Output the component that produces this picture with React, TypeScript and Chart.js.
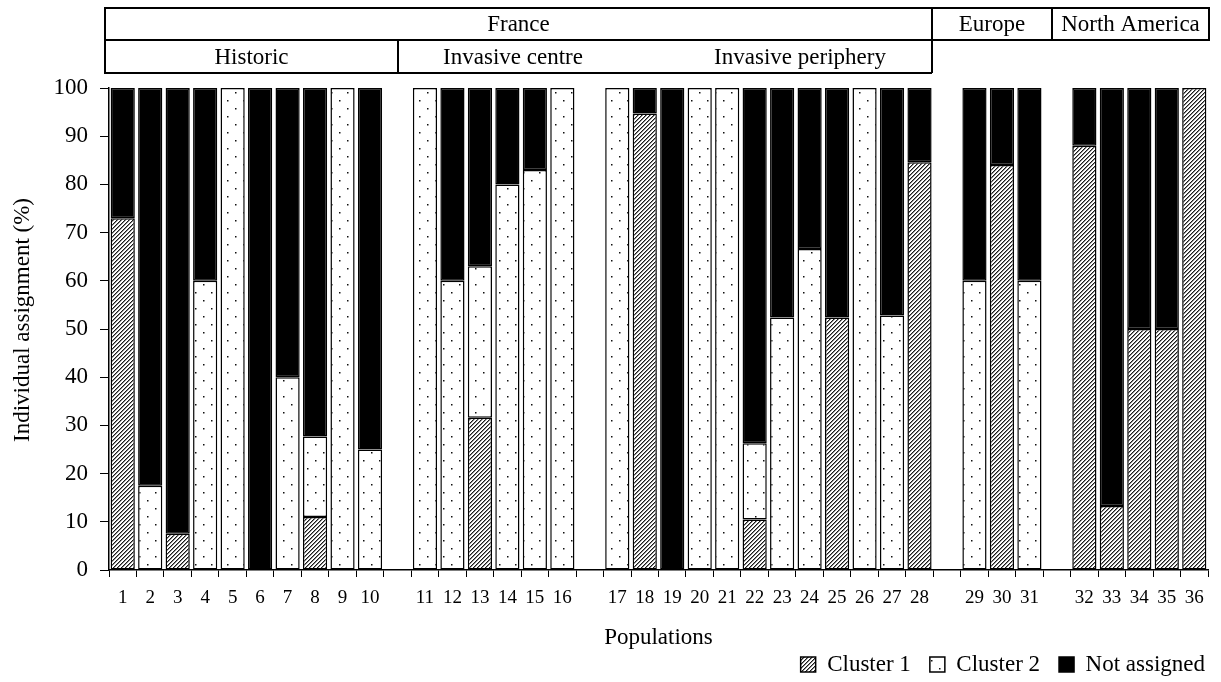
import React, { useEffect, useRef } from 'react';
import { Chart, registerables } from 'chart.js';

Chart.register(...registerables);

// ---------- data ----------
const categories = [
  '1', '2', '3', '4', '5', '6', '7', '8', '9', '10', '',
  '11', '12', '13', '14', '15', '16', '',
  '17', '18', '19', '20', '21', '22', '23', '24', '25', '26', '27', '28', '',
  '29', '30', '31', '',
  '32', '33', '34', '35', '36',
];

const cluster1 = [
  73, 0, 7.5, 0, 0, 0, 0, 11, 0, 0, null,
  0, 0, 31.6, 0, 0, 0, null,
  0, 94.7, 0, 0, 0, 10.5, 0, 0, 52.4, 0, 0, 84.6, null,
  0, 84, 0, null,
  88, 13.3, 50, 50, 100,
];

const cluster2 = [
  0, 17.5, 0, 60, 100, 0, 40, 16.7, 100, 25, null,
  100, 60, 31.4, 80, 83, 100, null,
  100, 0, 0, 100, 100, 15.8, 52.4, 66.6, 0, 100, 52.8, 0, null,
  60, 0, 60, null,
  0, 0, 0, 0, 0,
];

const notAssigned = [
  27, 82.5, 92.5, 40, 0, 100, 60, 72.3, 0, 75, null,
  0, 40, 37, 20, 17, 0, null,
  0, 5.3, 100, 0, 0, 73.7, 47.6, 33.4, 47.6, 0, 47.2, 15.4, null,
  40, 16, 40, null,
  12, 86.7, 50, 50, 0,
];

const seriesNames = ['Cluster 1', 'Cluster 2', 'Not assigned'];
const regionLabels = ['France', 'Europe', 'North America'];
const franceGroups = ['Historic', 'Invasive centre', 'Invasive periphery'];
const xTitle = 'Populations';
const yTitle = 'Individual assignment (%)';

const FONT = '"Liberation Serif", "Times New Roman", serif';

function hatchPattern(ctx: CanvasRenderingContext2D) {
  const c = document.createElement('canvas');
  c.width = 4; c.height = 4;
  const g = c.getContext('2d')!;
  g.fillStyle = '#fff';
  g.fillRect(0, 0, 4, 4);
  for (let y = 0; y < 4; y++) {
    for (let x = 0; x < 4; x++) {
      const k = (x + y) % 4;
      if (k === 0) { g.fillStyle = '#1a1a1a'; g.fillRect(x, y, 1, 1); }
      else if (k === 1) { g.fillStyle = '#8a8a8a'; g.fillRect(x, y, 1, 1); }
    }
  }
  return ctx.createPattern(c, 'repeat')!;
}

function dotPattern(ctx: CanvasRenderingContext2D) {
  const c = document.createElement('canvas');
  c.width = 16; c.height = 16;
  const g = c.getContext('2d')!;
  g.fillStyle = '#fff';
  g.fillRect(0, 0, 16, 16);
  g.fillStyle = '#111';
  g.fillRect(3, 4, 1.5, 1.5);
  g.fillRect(11, 12, 1.5, 1.5);
  return ctx.createPattern(c, 'repeat')!;
}

const headerPlugin = {
  id: 'headerBoxes',
  afterDraw(chart: any) {
    const ctx: CanvasRenderingContext2D = chart.ctx;
    const xs = chart.scales.x;
    const w = (xs.right - xs.left) / categories.length;
    const X = (s: number) => Math.round(xs.left + s * w);
    const l = X(-0.15), fr = X(29.95), eu = X(34.32), r = X(40.04), hi = X(10.52);
    const y0 = 8, y1 = 40, y2 = 73;
    ctx.save();
    ctx.strokeStyle = '#000';
    ctx.lineWidth = 2;
    ctx.beginPath();
    ctx.rect(l, y0, r - l, y1 - y0);
    ctx.moveTo(fr, y0); ctx.lineTo(fr, y2);
    ctx.moveTo(eu, y0); ctx.lineTo(eu, y1);
    ctx.moveTo(l, y1); ctx.lineTo(l, y2); ctx.lineTo(fr, y2);
    ctx.moveTo(hi, y1); ctx.lineTo(hi, y2);
    ctx.stroke();
    ctx.fillStyle = '#000';
    ctx.font = `23px ${FONT}`;
    ctx.textAlign = 'center';
    ctx.textBaseline = 'middle';
    const r1 = (y0 + y1) / 2 + 1, r2 = (y1 + y2) / 2 + 1;
    ctx.fillText(regionLabels[0], (l + fr) / 2, r1);
    ctx.fillText(regionLabels[1], (fr + eu) / 2, r1);
    ctx.fillText(regionLabels[2], (eu + r) / 2, r1);
    ctx.fillText(franceGroups[0], (l + hi) / 2, r2);
    ctx.fillText(franceGroups[1], X(14.7), r2);
    ctx.fillText(franceGroups[2], X(25.15), r2);
    ctx.restore();
  },
};

// draws the y-axis title slightly above the chart-area centre, as in the reference
const yTitlePlugin = {
  id: 'yTitle',
  afterDraw(chart: any) {
    const ctx: CanvasRenderingContext2D = chart.ctx;
    const ys = chart.scales.y;
    ctx.save();
    ctx.fillStyle = '#000';
    ctx.font = `23px ${FONT}`;
    ctx.textAlign = 'center';
    ctx.textBaseline = 'middle';
    ctx.translate(ys.left + 23, (ys.top + ys.bottom) / 2 - 9);
    ctx.rotate(-Math.PI / 2);
    ctx.fillText(yTitle, 0, 0);
    ctx.restore();
  },
};

const legendShift = {
  id: 'legendShift',
  afterLayout(chart: any) {
    const lg = chart.legend;
    if (lg) { lg.left += 16; lg.right += 16; }
  },
};

export default function App() {
  const ref = useRef<HTMLCanvasElement>(null);
  useEffect(() => {
    document.body.style.margin = '0';
    const canvas = ref.current!;
    const ctx = canvas.getContext('2d')!;
    const nz = (arr: (number | null)[]) => arr.map((v) => (v ? v : null));
    const common = {
      borderColor: '#000',
      borderWidth: 1.5,
      borderSkipped: false as const,
      barPercentage: 0.88,
      categoryPercentage: 1.0,
      stack: 's',
    };
    const chart = new Chart(canvas, {
      type: 'bar',
      data: {
        labels: categories,
        datasets: [
          { label: seriesNames[0], data: nz(cluster1), backgroundColor: hatchPattern(ctx), ...common },
          { label: seriesNames[1], data: nz(cluster2), backgroundColor: dotPattern(ctx), ...common },
          { label: seriesNames[2], data: nz(notAssigned), backgroundColor: '#000', ...common },
        ],
      },
      options: {
        animation: false,
        responsive: false,
        devicePixelRatio: 1,
        layout: { padding: { top: 88, right: 13, bottom: -4, left: 0 } },
        font: { family: FONT },
        color: '#000',
        plugins: {
          tooltip: { enabled: false },
          legend: {
            position: 'bottom',
            align: 'end',
            labels: {
              color: '#000',
              font: { family: FONT, size: 23 },
              boxWidth: 15,
              boxHeight: 15,
              padding: 19,
            },
          },
        },
        scales: {
          x: {
            stacked: true,
            afterFit: (s: any) => { s.height = 64; },
            grid: { display: true, drawOnChartArea: false, drawTicks: true, tickLength: 7, color: '#000', lineWidth: 1, offset: true },
            border: { display: true, color: '#000', width: 1.5 },
            ticks: {
              autoSkip: false, maxRotation: 0, minRotation: 0, padding: 10,
              color: '#000', font: { family: FONT, size: 19 },
            },
            title: {
              display: true, text: xTitle, color: '#000',
              font: { family: FONT, size: 23, lineHeight: 1 },
              padding: { top: 0, bottom: -15 },
            },
          },
          y: {
            stacked: true,
            min: 0, max: 100,
            afterFit: (s: any) => { s.width = 109; },
            grid: { display: true, drawOnChartArea: false, drawTicks: true, tickLength: 9, color: '#000', lineWidth: 1 },
            border: { display: true, color: '#000', width: 1.5 },
            ticks: {
              stepSize: 10, padding: 12, color: '#000',
              font: { family: FONT, size: 23 },
            },
            title: { display: false, text: yTitle },
          },
        },
      },
      plugins: [headerPlugin, yTitlePlugin, legendShift],
    } as any);
    return () => chart.destroy();
  }, []);
  return (
    <div style={{ width: 1221, height: 682, background: '#fff' }}>
      <canvas ref={ref} width={1221} height={682} style={{ width: 1221, height: 682, display: 'block' }} />
    </div>
  );
}
